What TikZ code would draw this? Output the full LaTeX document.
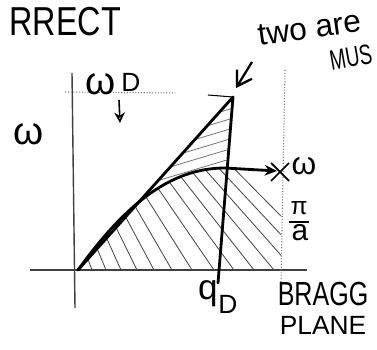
\documentclass[tikz,border=0pt]{standalone}
\usepackage{fontspec}
\setmainfont{Liberation Sans}
\usetikzlibrary{arrows.meta}
\begin{document}
\begin{tikzpicture}[x=0.02cm,y=-0.02cm,
  thick curve/.style={line width=1.6pt,line cap=round,line join=round},
  axisline/.style={line width=0.8pt,black!75},
  guide/.style={line width=0.6pt,black!55,densely dotted},
  hatchline/.style={line width=0.45pt,black!75},
  hand/.style={inner sep=0pt,outer sep=0pt},
]
\useasboundingbox (0,0) rectangle (377,350);

% texts at the top
\node[hand,anchor=east,xscale=0.8,font=\fontsize{23}{23}\selectfont] (corr) at (121,22) {RRECT};
\node[hand,anchor=west,rotate=8,font=\fontsize{18}{18}\selectfont] (two) at (258,36) {two are};
\node[hand,anchor=west,rotate=10,xscale=0.68,font=\fontsize{16}{16}\selectfont] (must) at (330,61) {MUS};

% axes
\coordinate (vtop) at (72,73);
\coordinate (vbot) at (75,308);
\coordinate (hl) at (30,270);
\coordinate (hr) at (307,270);
\draw[axisline] (vtop) -- (vbot);
\draw[axisline] (hl) -- (hr);

% guides
\coordinate (gl) at (65,92);
\coordinate (gr) at (175,93);
\draw[guide] (gl) -- (gr);
\coordinate (bt) at (285,70);
\coordinate (bb) at (281,282);
\draw[guide] (bt) -- (bb);

% key points
\coordinate (O) at (78,270);
\coordinate (P) at (233,97);
\coordinate (Q) at (218,283);
\coordinate (C) at (225,168);
\coordinate (E) at (277,171);
\coordinate (pl) at (208,95);
\draw[line width=0.6pt] (pl) -- (P);

% hatching between line and curve
\begin{scope}
  \clip (O) -- (P) -- (C) .. controls (170,168) and (125,205) .. (O) -- cycle;
  \foreach \b in {150,160,...,290}
    \draw[hatchline,black!55] (60,\b) -- (250,\b-57);
\end{scope}

% hatching under the curve
\begin{scope}
  \clip (O) .. controls (125,205) and (170,168) .. (C) -- (281,172) -- (281,270) -- cycle;
  \foreach \a in {92,106,121,137,154,172,192,214,234,254,274,294,314,334}
    \draw[hatchline] ({\a-45-0.3*(\a-90)},150) -- (\a,270);
\end{scope}

% main lines
\draw[thick curve] (O) -- (P) -- (Q);
\draw[thick curve,-{Stealth[length=7pt,width=6pt]}] (O) .. controls (125,205) and (170,168) .. (C) -- (E);

% cross mark at end
\coordinate (x1) at (271,163);
\coordinate (x2) at (289,181);
\coordinate (x3) at (289,163);
\coordinate (x4) at (271,181);
\draw[line width=1pt] (x1) -- (x2);
\draw[line width=1pt] (x3) -- (x4);

% arrow to the peak
\coordinate (at) at (252,62);
\coordinate (ah) at (236,88);
\draw[line width=1.3pt,-{Straight Barb[length=8pt,width=10pt]}] (at) -- (ah);

% labels
\node[hand,font=\fontsize{22}{22}\selectfont] (wl) at (29,134) {ω};
\node[hand,font=\fontsize{22}{22}\selectfont] (wd) at (101,84) {ω};
\node[hand,font=\fontsize{15}{15}\selectfont] (wdD) at (131,82) {D};
\coordinate (da1) at (119,100);
\coordinate (da2) at (120,123);
\draw[line width=0.9pt,-{Stealth[length=6pt,width=6pt,open]}] (da1) -- (da2);

\node[hand,font=\fontsize{18}{18}\selectfont] (wr) at (304,166) {ω};

\node[hand,font=\fontsize{14}{14}\selectfont] (pi) at (299,208) {π};
\coordinate (fb1) at (289,222);
\coordinate (fb2) at (309,222);
\draw[line width=0.9pt] (fb1) -- (fb2);
\node[hand,font=\fontsize{17}{17}\selectfont] (aa) at (300,233) {a};

\node[hand,font=\fontsize{20}{20}\selectfont] (q) at (208,294) {q};
\node[hand,font=\fontsize{15}{15}\selectfont] (qD) at (228,304) {D};

\node[hand,xscale=0.75,font=\fontsize{19}{19}\selectfont] (bragg) at (323,294) {BRAGG};
\node[hand,font=\fontsize{15}{15}\selectfont] (plane) at (323,325) {PLANE};
\end{tikzpicture}
\end{document}
